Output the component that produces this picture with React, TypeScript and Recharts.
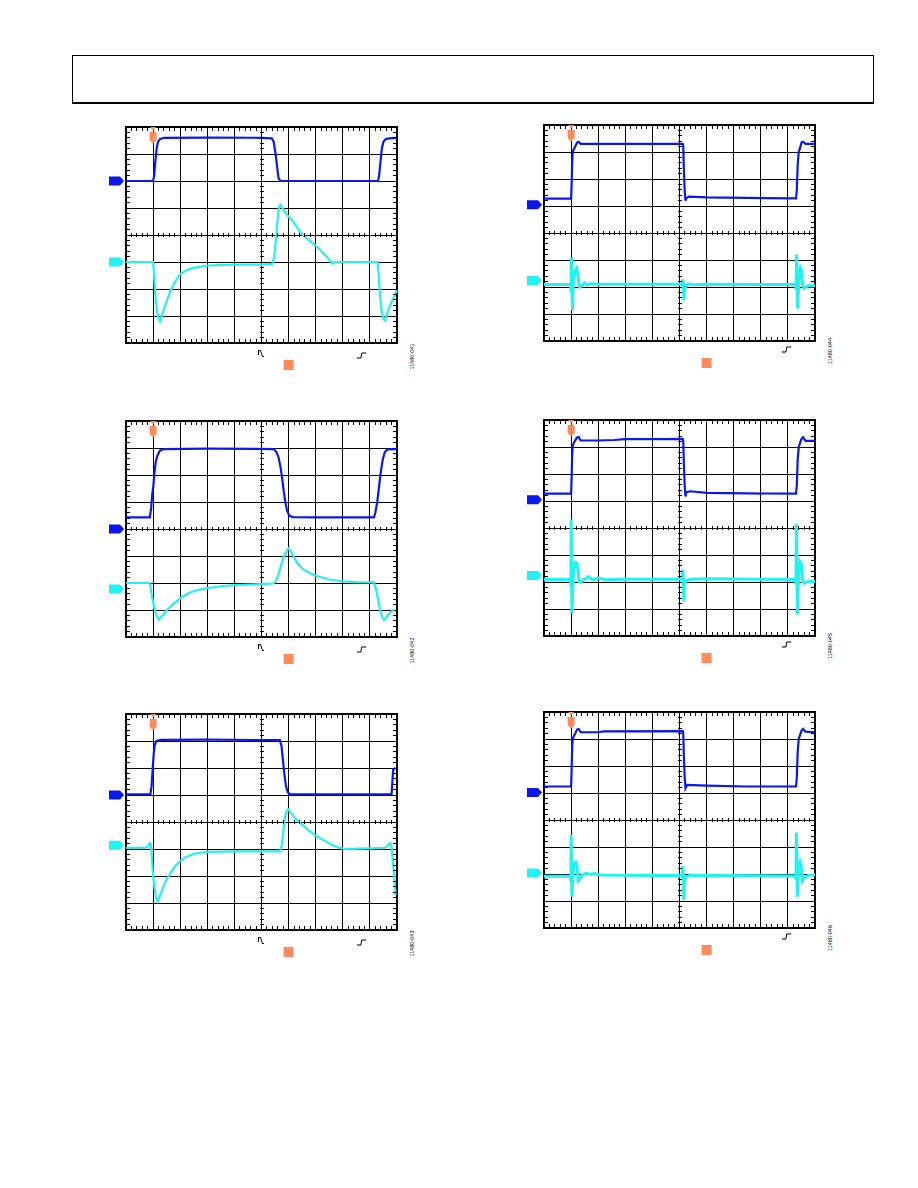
import React from 'react';
import { ComposedChart, Line, Scatter, XAxis, YAxis, CartesianGrid, ReferenceDot, ReferenceArea } from 'recharts';

type Pt = [number, number];

// graticule: 10 x 8 divisions
const timeTicks = [0, 1, 2, 3, 4, 5, 6, 7, 8, 9, 10];
const voltTicks = [-4, -3, -2, -1, 0, 1, 2, 3, 4];

// ---- Figure 11480-041 (left, top)
const fig041Ch1: Pt[] = [
  [0, 2.0], [1.0, 2.0], [1.04, 2.2], [1.08, 2.7], [1.13, 3.2], [1.18, 3.45], [1.25, 3.55], [1.4, 3.6],
  [3, 3.61], [5.0, 3.6], [5.38, 3.58], [5.45, 3.45], [5.52, 3.0], [5.58, 2.5], [5.63, 2.1], [5.7, 2.0],
  [7, 2.0], [9.3, 2.0], [9.34, 2.2], [9.39, 2.7], [9.44, 3.2], [9.5, 3.45], [9.58, 3.55], [9.7, 3.58], [10, 3.6],
];
const fig041Ch2: Pt[] = [
  [0, -1.0], [1.0, -1.0], [1.03, -1.4], [1.08, -2.2], [1.14, -2.8], [1.2, -3.1], [1.26, -3.2], [1.32, -3.0],
  [1.45, -2.6], [1.63, -2.1], [1.8, -1.75], [2.0, -1.45], [2.25, -1.3], [2.5, -1.22], [3.0, -1.13], [4.0, -1.1],
  [5.0, -1.1], [5.4, -1.07], [5.47, -0.8], [5.53, -0.2], [5.58, 0.4], [5.64, 1.0], [5.7, 1.12], [5.8, 0.95],
  [5.98, 0.7], [6.2, 0.46], [6.44, 0.09], [6.7, -0.15], [6.94, -0.34], [7.2, -0.58], [7.43, -0.83], [7.62, -1.06],
  [7.7, -1.0], [9.28, -1.0], [9.32, -1.4], [9.37, -2.2], [9.43, -2.8], [9.5, -3.1], [9.56, -3.17], [9.62, -2.95],
  [9.75, -2.6], [9.88, -2.3], [10, -2.05],
];

// ---- Figure 11480-042 (left, middle)
const fig042Ch1: Pt[] = [
  [0, 0.43], [0.88, 0.43], [0.93, 0.8], [0.97, 1.3], [1.01, 1.6], [1.05, 2.1], [1.1, 2.5], [1.16, 2.72],
  [1.25, 2.9], [1.4, 2.96], [3, 2.98], [5.45, 2.96], [5.55, 2.85], [5.63, 2.65], [5.7, 2.3], [5.76, 1.9],
  [5.82, 1.4], [5.88, 1.0], [5.94, 0.7], [6.02, 0.5], [6.15, 0.44], [7, 0.43], [9.15, 0.43], [9.2, 0.6],
  [9.27, 1.0], [9.33, 1.5], [9.4, 2.1], [9.47, 2.55], [9.55, 2.85], [9.65, 2.95], [10, 2.96],
];
const fig042Ch2: Pt[] = [
  [0, -2.0], [0.86, -2.0], [0.9, -2.1], [0.96, -2.5], [1.03, -2.85], [1.12, -3.2], [1.22, -3.36], [1.35, -3.2],
  [1.5, -3.02], [1.7, -2.82], [1.9, -2.65], [2.1, -2.5], [2.3, -2.38], [2.6, -2.27], [3.0, -2.19], [3.5, -2.12],
  [4.0, -2.08], [5.0, -2.04], [5.45, -2.02], [5.55, -1.9], [5.65, -1.6], [5.75, -1.25], [5.85, -0.95],
  [5.95, -0.78], [6.0, -0.72], [6.1, -0.85], [6.2, -1.05], [6.35, -1.3], [6.55, -1.5], [6.8, -1.65],
  [7.1, -1.76], [7.5, -1.87], [8.0, -1.94], [8.5, -1.97], [9.15, -1.98], [9.22, -2.2], [9.3, -2.6],
  [9.38, -3.0], [9.45, -3.25], [9.52, -3.37], [9.6, -3.28], [9.75, -3.1], [9.88, -2.98],
];

// ---- Figure 11480-043 (left, bottom)
const fig043Ch1: Pt[] = [
  [0, 1.02], [0.9, 1.02], [0.94, 1.3], [0.98, 1.9], [1.02, 2.5], [1.06, 2.85], [1.12, 3.0], [1.3, 3.04],
  [3, 3.05], [5.68, 3.03], [5.74, 2.8], [5.79, 2.3], [5.84, 1.8], [5.9, 1.35], [5.97, 1.1], [6.05, 1.03],
  [7, 1.02], [9.8, 1.02], [9.83, 1.5], [9.86, 1.95], [9.95, 2.0],
];
const fig043Ch2: Pt[] = [
  [0, -0.96], [0.72, -0.96], [0.8, -0.9], [0.88, -0.78], [0.92, -0.85], [0.96, -1.4], [1.0, -2.0],
  [1.06, -2.5], [1.12, -2.85], [1.17, -2.95], [1.25, -2.75], [1.38, -2.4], [1.5, -2.12], [1.65, -1.88],
  [1.8, -1.65], [2.0, -1.45], [2.2, -1.3], [2.5, -1.18], [3.0, -1.11], [4.0, -1.09], [5.68, -1.09],
  [5.75, -0.85], [5.8, -0.4], [5.85, 0.1], [5.92, 0.4], [5.98, 0.47], [6.1, 0.32], [6.3, 0.08], [6.5, -0.1],
  [6.7, -0.27], [7.0, -0.5], [7.3, -0.68], [7.6, -0.84], [7.85, -0.95], [8.05, -1.0], [9.0, -0.98],
  [9.55, -0.96], [9.65, -0.88], [9.75, -0.78], [9.8, -0.9], [9.85, -1.5], [9.9, -2.0], [9.95, -2.7],
];

// ---- Figure 11480-044 (right, top)
const fig044Ch1: Pt[] = [
  [0, 1.27], [1.0, 1.27], [1.02, 1.8], [1.04, 2.6], [1.06, 3.0], [1.1, 3.1], [1.15, 3.2], [1.22, 3.35],
  [1.28, 3.38], [1.35, 3.3], [2.0, 3.3], [4.5, 3.3], [5.12, 3.3], [5.14, 3.2], [5.16, 2.4], [5.19, 1.6],
  [5.22, 1.2], [5.26, 1.3], [5.35, 1.35], [6.0, 1.32], [7.5, 1.3], [9.3, 1.28], [9.33, 1.6], [9.36, 2.5],
  [9.4, 3.0], [9.45, 3.15], [9.5, 3.35], [9.56, 3.38], [9.65, 3.3], [10, 3.3],
];
const fig044Ch2: Pt[] = [
  [0, -1.91], [0.98, -1.91], [1.0, -2.2], [1.01, -1.0], [1.02, -0.93], [1.03, -2.0], [1.05, -2.85],
  [1.06, -2.5], [1.08, -1.9], [1.12, -1.6], [1.17, -1.35], [1.2, -1.3], [1.24, -1.45], [1.28, -1.8],
  [1.32, -2.0], [1.4, -1.95], [1.5, -1.85], [1.6, -1.92], [1.75, -1.88], [2.0, -1.9], [3, -1.9], [5.1, -1.9],
  [5.12, -1.72], [5.14, -1.9], [5.16, -2.5], [5.18, -2.1], [5.25, -1.95], [5.35, -1.88], [5.5, -1.92],
  [6, -1.9], [9.28, -1.91], [9.3, -2.1], [9.32, -0.8], [9.34, -1.5], [9.36, -2.8], [9.38, -2.3], [9.42, -1.5],
  [9.46, -1.3], [9.5, -1.4], [9.54, -1.9], [9.6, -2.05], [9.75, -1.95], [10, -1.95],
];

// ---- Figure 11480-045 (right, middle)
const fig045Ch1: Pt[] = [
  [0, 1.27], [1.0, 1.27], [1.02, 1.9], [1.04, 2.7], [1.06, 3.05], [1.1, 3.15], [1.15, 3.25], [1.22, 3.35],
  [1.28, 3.37], [1.35, 3.24], [2.0, 3.24], [2.6, 3.26], [3.0, 3.29], [4.5, 3.29], [5.12, 3.3], [5.14, 3.2],
  [5.16, 2.4], [5.19, 1.6], [5.22, 1.17], [5.26, 1.33], [5.4, 1.36], [6.0, 1.3], [7.5, 1.28], [9.3, 1.27],
  [9.33, 1.6], [9.36, 2.5], [9.4, 3.0], [9.45, 3.15], [9.5, 3.3], [9.56, 3.36], [9.65, 3.23], [10, 3.23],
];
const fig045Ch2: Pt[] = [
  [0, -1.91], [0.98, -1.91], [0.995, -2.2], [1.0, 0.31], [1.01, -0.5], [1.02, -2.0], [1.03, -3.16],
  [1.05, -2.6], [1.07, -1.95], [1.12, -1.5], [1.17, -1.27], [1.22, -1.3], [1.26, -1.6], [1.3, -2.0],
  [1.38, -2.0], [1.5, -1.9], [1.65, -1.8], [1.8, -1.93], [2.0, -1.85], [2.3, -1.92], [3, -1.9], [5.1, -1.9],
  [5.12, -1.54], [5.14, -1.9], [5.16, -2.71], [5.18, -2.1], [5.25, -1.95], [5.4, -1.9], [6, -1.88],
  [9.28, -1.91], [9.3, -2.1], [9.31, 0.16], [9.33, -1.0], [9.35, -3.2], [9.37, -2.4], [9.41, -1.5],
  [9.45, -1.25], [9.5, -1.35], [9.54, -2.0], [9.6, -2.05], [9.75, -1.98], [10, -1.98],
];

// ---- Figure 11480-046 (right, bottom)
const fig046Ch1: Pt[] = [
  [0, 1.24], [1.0, 1.24], [1.02, 1.9], [1.04, 2.7], [1.06, 3.0], [1.1, 3.1], [1.15, 3.2], [1.22, 3.35],
  [1.28, 3.37], [1.36, 3.25], [2.0, 3.25], [2.2, 3.28], [5.12, 3.29], [5.14, 3.2], [5.16, 2.4], [5.19, 1.6],
  [5.22, 1.18], [5.28, 1.3], [5.5, 1.29], [6.0, 1.27], [7.5, 1.24], [9.3, 1.24], [9.33, 1.6], [9.36, 2.5],
  [9.4, 3.0], [9.45, 3.15], [9.5, 3.3], [9.56, 3.37], [9.65, 3.27], [10, 3.25],
];
const fig046Ch2: Pt[] = [
  [0, -2.08], [0.98, -2.08], [0.995, -2.3], [1.0, -0.54], [1.01, -1.2], [1.02, -2.3], [1.03, -2.84],
  [1.05, -2.4], [1.08, -1.9], [1.12, -1.6], [1.17, -1.56], [1.22, -1.7], [1.26, -2.26], [1.32, -2.2],
  [1.4, -2.05], [1.55, -1.97], [1.7, -2.02], [1.85, -1.98], [2.1, -2.04], [3, -2.05], [5.1, -2.06],
  [5.12, -1.71], [5.14, -2.05], [5.16, -2.97], [5.18, -2.3], [5.25, -2.1], [5.4, -2.05], [9.28, -2.07],
  [9.3, -2.2], [9.31, -0.46], [9.33, -1.3], [9.35, -2.84], [9.37, -2.3], [9.41, -1.7], [9.45, -1.56],
  [9.49, -1.7], [9.53, -2.26], [9.6, -2.15], [9.75, -2.05], [10, -2.03],
];

const BLUE = '#0a18ee';
const CYAN = '#22f2f2';
const ORANGE = '#ff8a5c';

const PLOT_W = 271;
const PLOT_H = 216;
const M = { top: 20, right: 40, bottom: 40, left: 24 };

// minor ticks on the border and on the centre cross
const minorTicks: { x: number; y: number; o: string }[] = [];
for (let i = 1; i < 50; i++) {
  if (i % 5 === 0) continue;
  const x = i / 5;
  minorTicks.push({ x, y: 4, o: 'top' }, { x, y: -4, o: 'bottom' }, { x, y: 0, o: 'hc' });
}
for (let j = 1; j < 40; j++) {
  if (j % 5 === 0) continue;
  const y = -4 + j / 5;
  minorTicks.push({ x: 0, y, o: 'left' }, { x: 10, y, o: 'right' }, { x: 5, y, o: 'vc' });
}

const TickMark = (p: any) => {
  const { cx, cy, payload } = p;
  let d = '';
  switch (payload.o) {
    case 'top': d = `M${cx},${cy} v4`; break;
    case 'bottom': d = `M${cx},${cy} v-4`; break;
    case 'left': d = `M${cx},${cy} h4`; break;
    case 'right': d = `M${cx},${cy} h-4`; break;
    case 'hc': d = `M${cx},${cy - 2} v4`; break;
    default: d = `M${cx - 2},${cy} h4`;
  }
  return <path d={d} stroke="#000" strokeWidth={1} fill="none" shapeRendering="crispEdges" />;
};

const chMarker = (color: string) => (p: any) => {
  const { cx, cy } = p;
  return (
    <polygon
      points={`${cx - 17},${cy - 4.5} ${cx - 6},${cy - 4.5} ${cx - 2},${cy} ${cx - 6},${cy + 4.5} ${cx - 17},${cy + 4.5}`}
      fill={color}
    />
  );
};

const trigMarker = (p: any) => {
  const { cx, cy } = p;
  return (
    <g fill={ORANGE}>
      <polygon points={`${cx - 3},${cy} ${cx + 3},${cy} ${cx},${cy + 3.5}`} />
      <polygon
        points={`${cx - 3.5},${cy + 5} ${cx + 3.5},${cy + 5} ${cx + 3.5},${cy + 13} ${cx},${cy + 16.5} ${cx - 3.5},${cy + 13}`}
      />
    </g>
  );
};

const posMarker = (p: any) => <rect x={p.cx - 5} y={p.cy + 17} width={10} height={10} fill={ORANGE} />;

const holdSymbol = (p: any) => (
  <path
    d={`M${p.cx - 3},${p.cy + 7} v5 M${p.cx - 3},${p.cy + 7.5} h2 l2,6 h1.5`}
    stroke="#000" strokeWidth={1} fill="none"
  />
);

const edgeSymbol = (dy: number) => (p: any) => (
  <path
    d={`M${p.cx},${p.cy + dy + 5} h4 l0.8,-5 h4.5`}
    stroke="#000" strokeWidth={1} fill="none"
  />
);

const figLabel = (text: string, dx: number, dy: number) => (p: any) => (
  <text
    transform={`translate(${p.cx + dx},${p.cy + dy}) rotate(-90)`}
    textAnchor="middle"
    dominantBaseline="central"
    fontSize={5.5}
    fontFamily="Liberation Sans, Arial, sans-serif"
    fill="#000"
  >
    {text}
  </text>
);

interface ScopeProps {
  label: string;
  left: number;
  top: number;
  ch1: Pt[];
  ch2: Pt[];
  ch1Ref: number;
  ch2Ref: number;
  ch2Width: number;
  hold: boolean;
  edgeX: number;
  edgeDy: number;
  labelDy: number;
}

const Scope: React.FC<ScopeProps> = ({ label, left, top, ch1, ch2, ch1Ref, ch2Ref, ch2Width, hold, edgeX, edgeDy, labelDy }) => {
  const d1 = ch1.map(([x, y]) => ({ x, y }));
  const d2 = ch2.map(([x, y]) => ({ x, y }));
  return (
    <div style={{ position: 'absolute', left: left - M.left, top: top - M.top }}>
      <ComposedChart width={PLOT_W + M.left + M.right} height={PLOT_H + M.top + M.bottom} margin={M}>
        <XAxis type="number" dataKey="x" domain={[0, 10]} ticks={timeTicks} interval={0} hide />
        <YAxis type="number" dataKey="y" domain={[-4, 4]} ticks={voltTicks} interval={0} hide width={0} />
        <CartesianGrid stroke="#000" strokeWidth={1} strokeOpacity={1} shapeRendering="crispEdges" />
        <ReferenceArea x1={0} x2={10} y1={-4} y2={4} fill="none" stroke="#000" strokeWidth={1.3} ifOverflow="visible" shapeRendering="crispEdges" />
        <Scatter data={minorTicks} dataKey="y" shape={TickMark} isAnimationActive={false} />
        <Line data={d1} dataKey="y" type="linear" stroke={BLUE} strokeWidth={2.2} dot={false} activeDot={false} isAnimationActive={false} />
        <Line data={d2} dataKey="y" type="linear" stroke={CYAN} strokeWidth={ch2Width} dot={false} activeDot={false} isAnimationActive={false} />
        <ReferenceDot x={0} y={ch1Ref} r={0} ifOverflow="visible" shape={chMarker(BLUE)} />
        <ReferenceDot x={0} y={ch2Ref} r={0} ifOverflow="visible" shape={chMarker(CYAN)} />
        <ReferenceDot x={1} y={4} r={0} ifOverflow="visible" shape={trigMarker} />
        <ReferenceDot x={6} y={-4} r={0} ifOverflow="visible" shape={posMarker} />
        {hold && <ReferenceDot x={5} y={-4} r={0} ifOverflow="visible" shape={holdSymbol} />}
        <ReferenceDot x={edgeX} y={-4} r={0} ifOverflow="visible" shape={edgeSymbol(edgeDy)} />
        <ReferenceDot x={10} y={-4} r={0} ifOverflow="visible" shape={figLabel(label, 14.5, labelDy)} />
      </ComposedChart>
    </div>
  );
};

export default function App() {
  return (
    <div style={{ position: 'absolute', left: 0, top: 0, width: 918, height: 1188, background: '#fff' }}>
      <div
        style={{
          position: 'absolute', left: 72, top: 55, width: 800, height: 46,
          borderTop: '1px solid #000', borderLeft: '1px solid #000', borderRight: '1px solid #000',
          borderBottom: '2px solid #000',
        }}
      />
      <Scope label="11480-041" left={126} top={127} ch1={fig041Ch1} ch2={fig041Ch2} ch1Ref={2.0} ch2Ref={-1.0}
        ch2Width={2.2} hold edgeX={8.52} edgeDy={10} labelDy={13.5} />
      <Scope label="11480-042" left={126} top={421} ch1={fig042Ch1} ch2={fig042Ch2} ch1Ref={0.0} ch2Ref={-2.22}
        ch2Width={2.2} hold edgeX={8.52} edgeDy={10} labelDy={13.5} />
      <Scope label="11480-043" left={126} top={714} ch1={fig043Ch1} ch2={fig043Ch2} ch1Ref={1.0} ch2Ref={-0.86}
        ch2Width={2.2} hold edgeX={8.52} edgeDy={10} labelDy={13.5} />
      <Scope label="11480-044" left={544} top={125} ch1={fig044Ch1} ch2={fig044Ch2} ch1Ref={1.05} ch2Ref={-1.76}
        ch2Width={3} hold={false} edgeX={8.78} edgeDy={6} labelDy={10} />
      <Scope label="11480-045" left={544} top={420} ch1={fig045Ch1} ch2={fig045Ch2} ch1Ref={1.05} ch2Ref={-1.76}
        ch2Width={3} hold={false} edgeX={8.78} edgeDy={6} labelDy={10} />
      <Scope label="11480-046" left={544} top={712} ch1={fig046Ch1} ch2={fig046Ch2} ch1Ref={1.02} ch2Ref={-1.96}
        ch2Width={3} hold={false} edgeX={8.78} edgeDy={6} labelDy={10} />
    </div>
  );
}
